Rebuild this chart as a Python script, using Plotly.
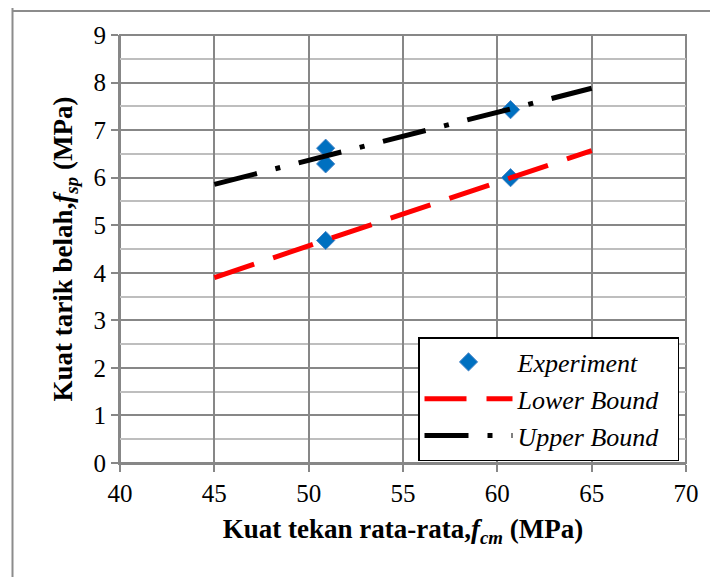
import plotly.graph_objects as go

# Data
exp_x = [50.9, 50.9, 50.9, 60.7, 60.7]
exp_y = [6.62, 6.29, 4.68, 7.43, 6.0]
bound_x = [45, 65]
lower_y = [3.90, 6.57]
upper_y = [5.86, 7.88]
x_ticks = [40, 45, 50, 55, 60, 65, 70]
y_ticks = [0, 1, 2, 3, 4, 5, 6, 7, 8, 9]

FONT = "'Liberation Serif', 'Times New Roman', 'DejaVu Serif', serif"
MAJ = "#878787"
MIN = "#BEBEBE"

# page body has 8px margin -> compensate
OFF = 8
W, H = 718 - OFF, 577 - OFF
L, T = 120 - OFF, 35 - OFF
PW, PH = 566, 428
R = W - L - PW
B = H - T - PH

NB = "\u00a0\u00a0"

fig = go.Figure()
fig.add_trace(go.Scatter(
    x=exp_x, y=exp_y, mode="markers", name="<i>Experiment</i>" + NB,
    legendgroup="a",
    marker=dict(symbol="diamond", size=14, color="#0070C0",
                line=dict(color="#4A86C8", width=1)),
))
fig.add_trace(go.Scatter(
    x=bound_x, y=lower_y, mode="lines", name="<i>Lower Bound</i>" + NB,
    legendgroup="b",
    line=dict(color="#FF0000", width=5, dash="42px,20px"),
))
fig.add_trace(go.Scatter(
    x=bound_x, y=upper_y, mode="lines", name="<i>Upper Bound</i>" + NB,
    legendgroup="c",
    line=dict(color="#000000", width=5, dash="44px,19px,5px,19px"),
))

left_frame = (12.5 - 120) / PW

fig.update_layout(
    width=W, height=H,
    margin=dict(l=L, r=R, t=T, b=B),
    paper_bgcolor="white", plot_bgcolor="white",
    font=dict(family=FONT, color="black", size=25),
    showlegend=True,
    legend=dict(
        x=(679 - 120) / PW, y=(463 - 337) / PH, xanchor="right", yanchor="top",
        bordercolor="black", borderwidth=1.5, bgcolor="white",
        font=dict(family=FONT, size=26), itemwidth=88,
        tracegroupgap=0,
    ),
    xaxis=dict(
        range=[40, 70], tickvals=x_ticks, ticktext=[str(v) for v in x_ticks],
        showgrid=True, gridcolor=MAJ, gridwidth=2,
        showline=True, linecolor=MAJ, linewidth=2, mirror=False,
        ticks="outside", ticklen=7, tickcolor=MAJ, tickwidth=2,
        tickfont=dict(family=FONT, size=25),
        zeroline=False,
        title=dict(text="<b>Kuat tekan rata-rata,<i>f</i><sub><i>cm</i></sub> (MPa)</b>",
                   font=dict(family=FONT, size=27), standoff=13),
    ),
    yaxis=dict(
        range=[0, 9], tickvals=y_ticks, ticktext=[str(v) for v in y_ticks],
        showgrid=True, gridcolor=MAJ, gridwidth=2,
        minor=dict(dtick=0.5, showgrid=True, gridcolor=MIN, gridwidth=2),
        showline=True, linecolor=MAJ, linewidth=2,
        ticks="outside", ticklen=7, tickcolor=MAJ, tickwidth=2,
        tickfont=dict(family=FONT, size=25),
        zeroline=False,
        title=dict(text="<b>Kuat tarik belah,<i>f</i><sub><i>sp</i></sub> (MPa)</b>",
                   font=dict(family=FONT, size=27), standoff=13),
    ),
    shapes=[
        dict(type="rect", xref="paper", yref="paper", x0=0, y0=0, x1=1, y1=1,
             line=dict(color=MAJ, width=2), layer="below"),
        dict(type="line", xref="paper", yref="paper",
             x0=left_frame, y0=-0.5, x1=left_frame, y1=1.2,
             line=dict(color="#8C8C8C", width=2)),
        dict(type="line", xref="paper", yref="paper",
             ysizemode="pixel", yanchor=1, y0=24, y1=24,
             x0=left_frame, x1=1.2,
             line=dict(color="#8C8C8C", width=2)),
    ],
)

fig.write_html("out.html", config={"displayModeBar": False})
